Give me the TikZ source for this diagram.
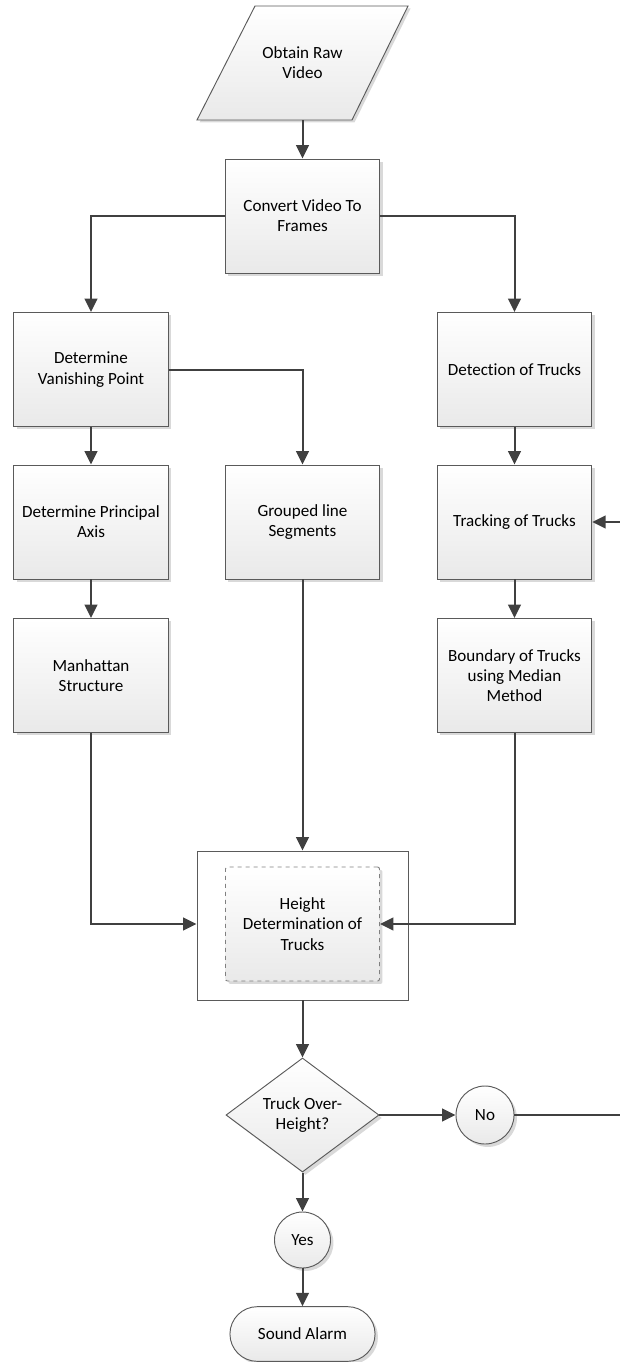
\documentclass[tikz,border=0pt]{standalone}
\usepackage{fontspec}
\setmainfont{Carlito}[Ligatures=NoCommon]
\usetikzlibrary{shapes.geometric,shapes.misc,arrows.meta,shadows}
\definecolor{bordc}{HTML}{5A5A5A}
\definecolor{linec}{HTML}{404040}
\definecolor{botc}{HTML}{E9E9E9}
\tikzset{
  shad/.style={drop shadow={shadow xshift=2.2pt,shadow yshift=-2.2pt,fill=black!15,opacity=1}},
  grad/.style={top color=white,bottom color=botc},
  txt/.style={align=center,font=\fontsize{12.8}{15.2}\selectfont},
  procbox/.style={rectangle,draw=bordc,line width=0.7pt,grad,shad,minimum width=116pt,minimum height=85.5pt,inner sep=2pt,txt},
  conn/.style={draw=linec,line width=1.5pt,-{Triangle[length=10pt,width=9.5pt]}},
  roundnode/.style={circle,draw=bordc,line width=0.7pt,grad,shad,inner sep=0pt,txt},
}
\begin{document}
\begin{tikzpicture}[x=0.75pt,y=-0.75pt]
\useasboundingbox (0,0) rectangle (620,1362);
\clip (0,0) rectangle (620,1362);
% parallelogram
\fill[black!15] (257.5,8.5) -- (410.5,8.5) -- (354.5,122.5) -- (199.5,122.5) -- cycle;
\draw[bordc,line width=0.7pt,grad] (255,6) -- (408,6) -- (352,120) -- (197,120) -- cycle;
\node[txt,minimum height=85.5pt,minimum width=80pt,inner sep=0pt] (raw) at (302.5,63) {Obtain Raw\\Video};
\node[procbox] (conv) at (302.5,216) {Convert Video To\\Frames};
\node[procbox] (vp) at (91,369.5) {Determine\\Vanishing Point};
\node[procbox] (det) at (514.5,369.5) {Detection of Trucks};
\node[procbox] (pa) at (91,522) {Determine Principal\\Axis};
\node[procbox] (grp) at (302.5,522) {Grouped line\\Segments};
\node[procbox] (trk) at (514.5,522) {Tracking of Trucks};
\node[procbox] (man) at (91,675.5) {Manhattan\\Structure};
\node[procbox] (bnd) at (514.5,675.5) {Boundary of Trucks\\using Median\\Method};
\node[rectangle,draw=bordc,line width=0.7pt,fill=white,minimum width=158.25pt,minimum height=111.75pt] (cont) at (302.5,925.5) {};
\node[rectangle,rounded corners=1.5pt,draw=gray,dashed,line width=0.7pt,grad,shad,minimum width=115.5pt,minimum height=85.5pt,txt] (hgt) at (302.5,924) {Height\\Determination of\\Trucks};
\node[diamond,draw=bordc,line width=0.7pt,grad,shad,minimum width=114.75pt,minimum height=85.5pt,inner sep=0pt,txt] (dec) at (302.5,1115) {Truck Over-\\Height?};
\node[roundnode,minimum size=43.5pt] (no) at (485,1115) {No};
\node[roundnode,minimum size=42pt] (yes) at (302.5,1240) {Yes};
\node[rounded rectangle,draw=bordc,line width=0.7pt,grad,shad,minimum width=115.5pt,minimum height=41pt,txt] (alarm) at (302.5,1334) {Sound Alarm};
\coordinate (loopx) at (628,1115);
% connectors
\draw[conn] (raw.south) -- (conv.north);
\draw[conn] (conv.west) -| (vp.north);
\draw[conn] (conv.east) -| (det.north);
\draw[conn] (vp.east) -| (grp.north);
\draw[conn] (vp.south) -- (pa.north);
\draw[conn] (pa.south) -- (man.north);
\draw[conn] (det.south) -- (trk.north);
\draw[conn] (trk.south) -- (bnd.north);
\draw[conn] (grp.south) -- (cont.north);
\draw[conn] (man.south) |- (hgt.west -| cont.west);
\draw[conn] (bnd.south) |- (hgt.east);
\draw[conn] (cont.south) -- (dec.north);
\draw[conn] (dec.east) -- (no.west);
\draw[conn] (dec.south) -- (yes.north);
\draw[conn] (yes.south) -- (alarm.north);
\draw[conn] (no.east) -- (loopx) |- (trk.east);
\end{tikzpicture}
\end{document}
